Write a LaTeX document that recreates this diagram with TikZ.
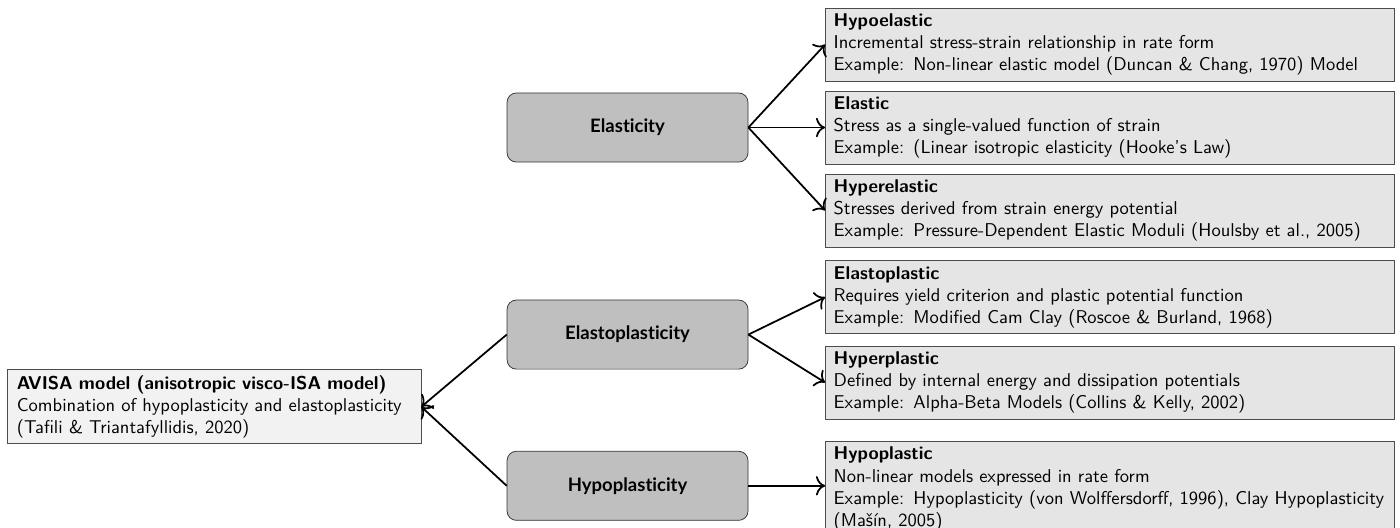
\documentclass[tikz,border=0pt]{standalone}
\usepackage{fontspec}
\newfontfamily\latofont[Ligatures=NoCommon]{Lato}
\usepackage{tikz}
\usetikzlibrary{positioning, arrows, arrows.meta}

\tikzset{
    category/.style={draw=black!80, fill=gray!50, rounded corners=5pt, minimum width=130.1pt, minimum height=37.3pt, font=\latofont\bfseries},
    model/.style={draw=black!70, fill=gray!20, text width=298.5pt, align=left, inner xsep=4.4pt, inner ysep=3pt, minimum height=38.9pt, font=\sffamily},
    combined/.style={draw=black!70, fill=gray!10, text width=212.8pt, align=left, inner xsep=5.4pt, inner ysep=3pt, minimum height=38.9pt, font=\sffamily},
    link/.style={-{To[scale=1.35]}, line width=0.95pt}
}

\begin{document}
\begin{tikzpicture}
                \useasboundingbox (0, 0) rectangle (26.57, -10.02);

                \node[combined] (avisa) at (4.06, -7.72) {\textbf{AVISA model (anisotropic visco-ISA model)}\\Combination of hypoplasticity and elastoplasticity\\(Tafili \& Triantafyllidis, 2020)};

                \node[category] (elast) at (11.91, -2.42) {Elasticity};
                \node[category] (elastoplast) at (11.91, -6.35) {Elastoplasticity};
                \node[category] (hypoplast) at (11.91, -9.22) {Hypoplasticity};

                \node[model, anchor=west] (hypoel) at (15.66, -0.845) {\textbf{Hypoelastic}\\Incremental stress-strain relationship in rate form\\Example: Non-linear elastic model (Duncan \& Chang, 1970) Model};
                \node[model, anchor=west] (el) at (15.66, -2.42) {\textbf{Elastic}\\Stress as a single-valued function of strain\\Example: (Linear isotropic elasticity (Hooke's Law)};
                \node[model, anchor=west] (hyperel) at (15.66, -3.995) {\textbf{Hyperelastic}\\Stresses derived from strain energy potential\\Example: Pressure-Dependent Elastic Moduli (Houlsby et al., 2005)};
                \node[model, anchor=west] (elpl) at (15.66, -5.64) {\textbf{Elastoplastic}\\Requires yield criterion and plastic potential function\\Example: Modified Cam Clay (Roscoe \& Burland, 1968)};
                \node[model, anchor=west] (hyperpl) at (15.66, -7.26) {\textbf{Hyperplastic}\\Defined by internal energy and dissipation potentials\\Example: Alpha-Beta Models (Collins \& Kelly, 2002)};
                \node[model, anchor=north west] (hypopl) at (15.66, -8.37) {\textbf{Hypoplastic}\\Non-linear models expressed in rate form\\Example: Hypoplasticity (von Wolffersdorff, 1996), Clay Hypoplasticity\\(Mašín, 2005)};

                \draw[link] (elast.east) -- (hypoel.west);
                \draw[link] (elast.east) -- (el.west);
                \draw[link] (elast.east) -- (hyperel.west);
                \draw[link] (elastoplast.east) -- (elpl.west);
                \draw[link] (elastoplast.east) -- (hyperpl.west);
                \draw[link] (hypoplast.east) -- (hypoplast.east -| hypopl.west);
                \draw[link] (elastoplast.west) -- (avisa.east);
                \draw[link] (hypoplast.west) -- (avisa.east);
            \end{tikzpicture}
\end{document}
